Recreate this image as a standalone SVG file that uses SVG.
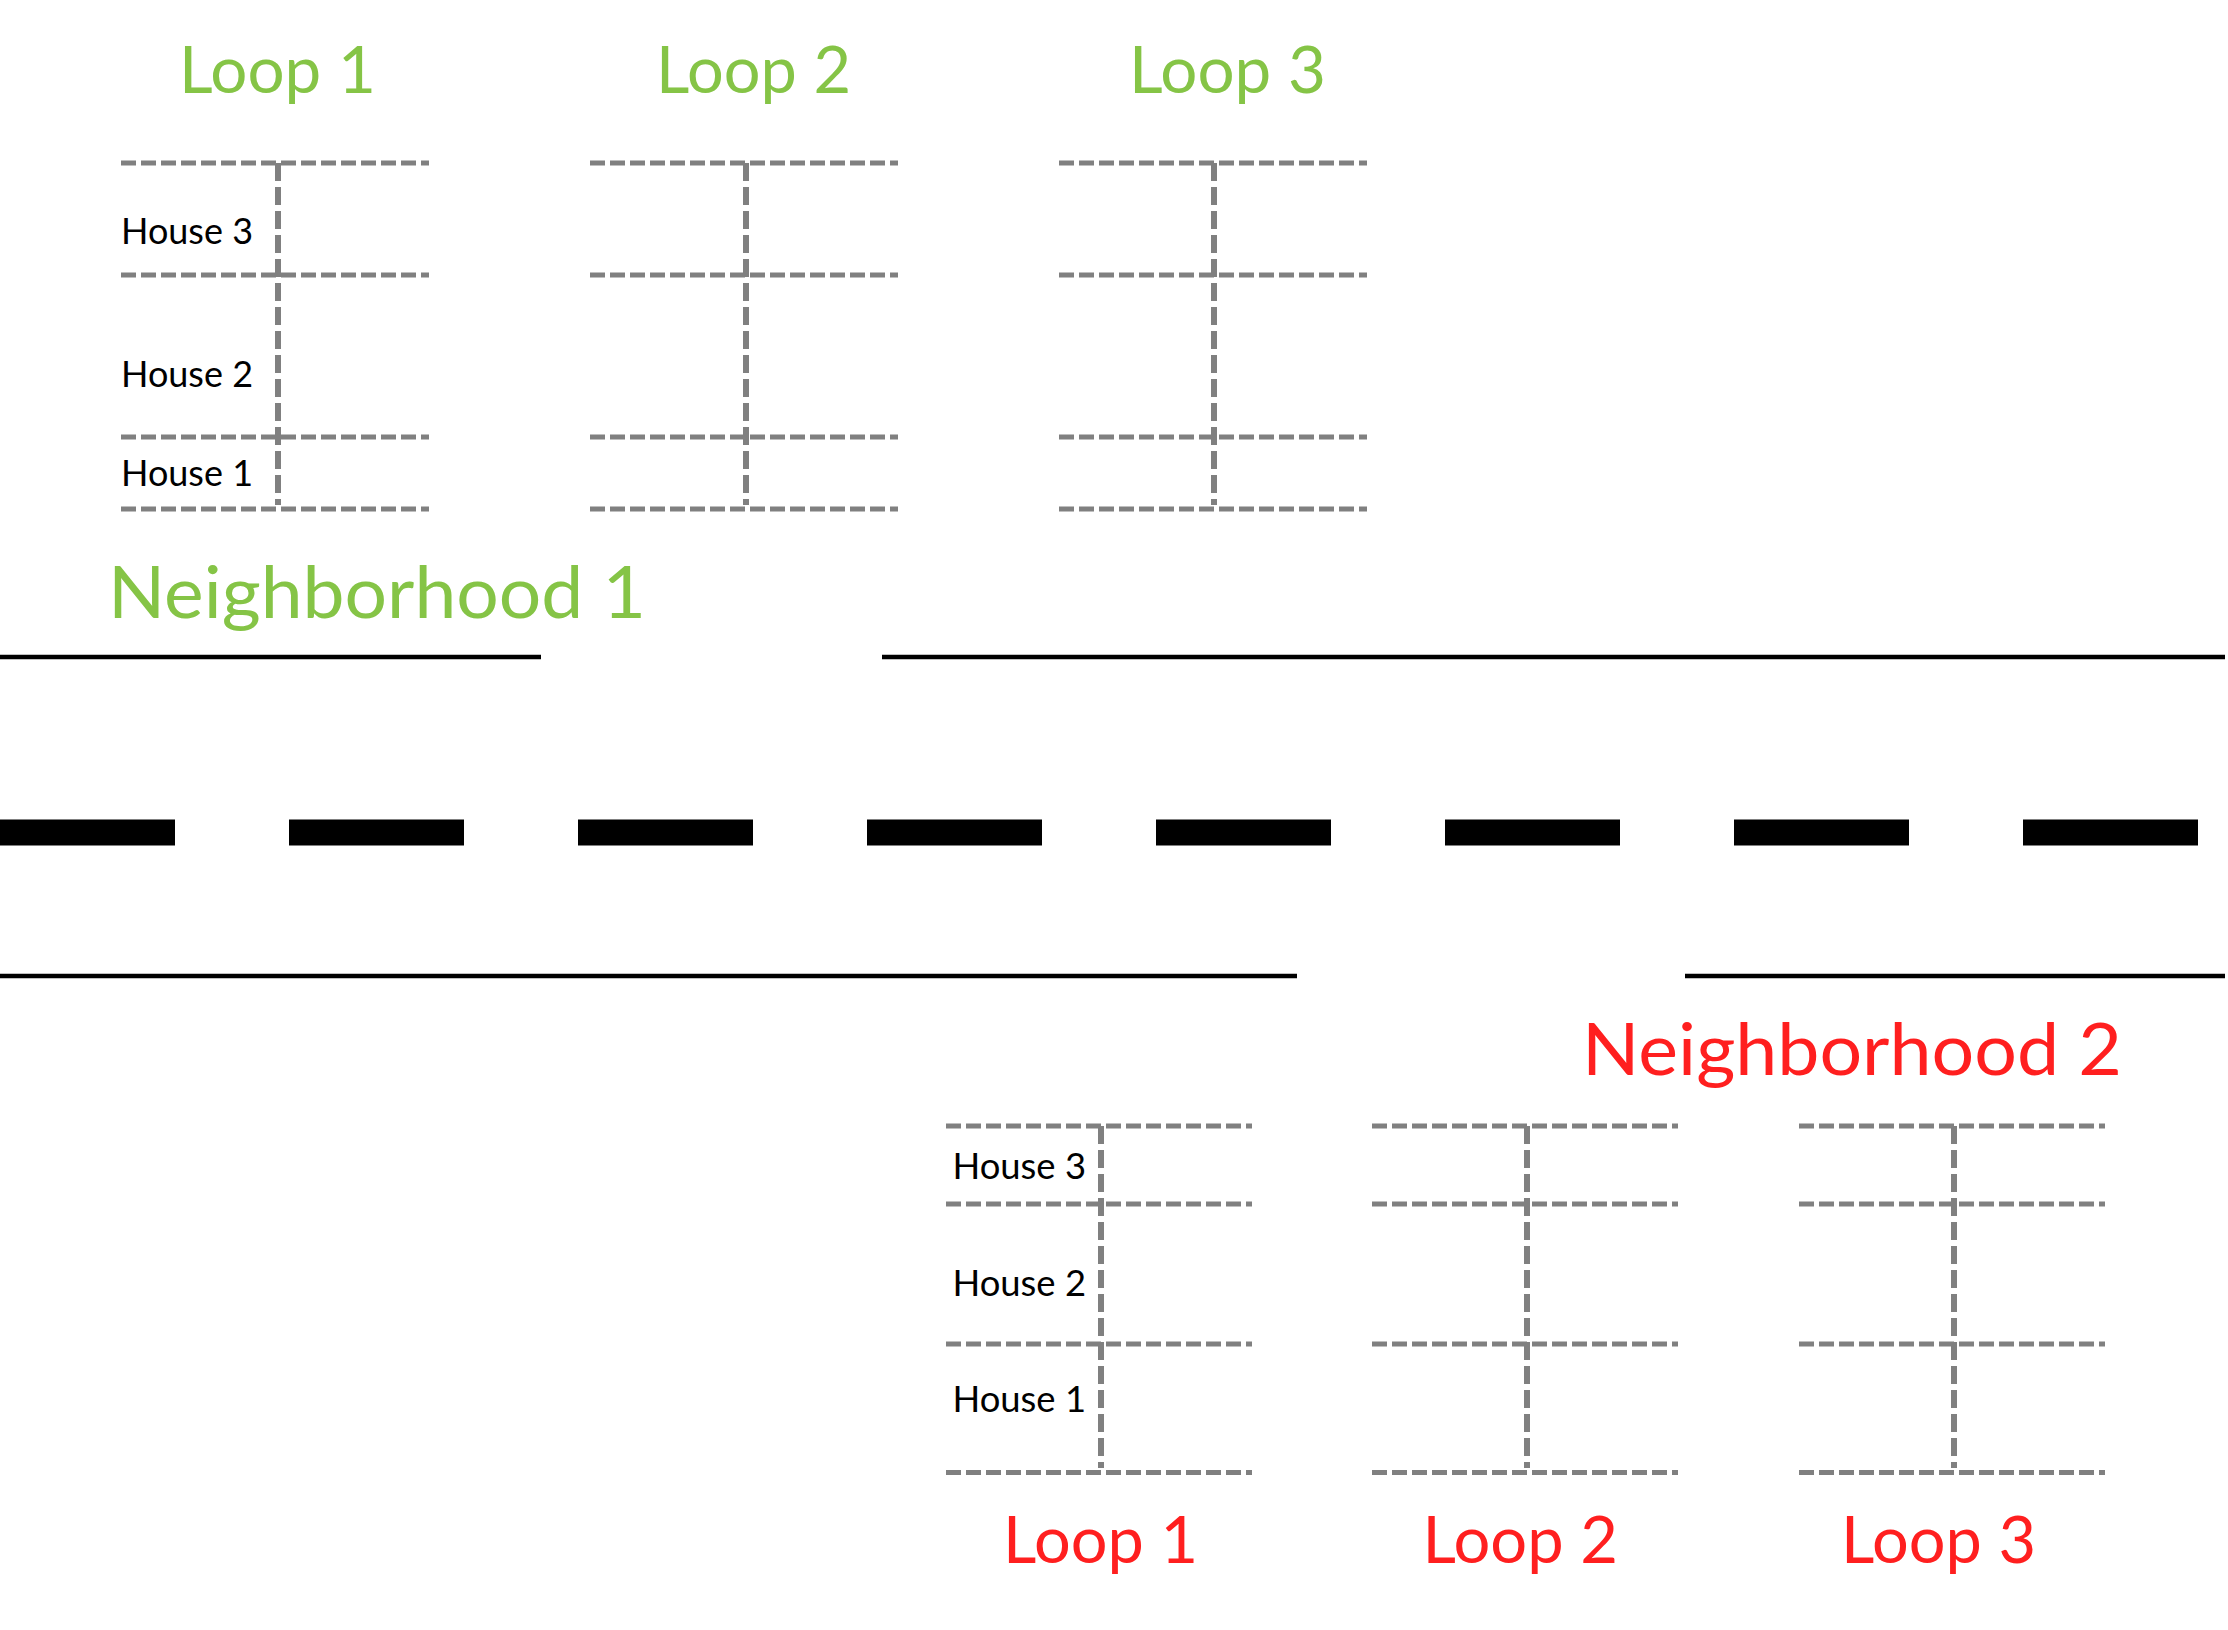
<svg xmlns="http://www.w3.org/2000/svg" width="2228" height="1630" viewBox="0 0 2228 1630">
<style>
text{font-family:Lato,"Liberation Sans",sans-serif}
.g{fill:#85C446}
.r{fill:#FF1F1F}
.big{font-size:66px}
.nb{font-size:71px}
.hs{font-size:36px;fill:#000}
.h{stroke:#808080;stroke-width:5;stroke-dasharray:15 5;fill:none}
.v{stroke:#808080;stroke-width:6;stroke-dasharray:18 6;fill:none}
.road{stroke:#000;stroke-width:4.5;fill:none}
</style>
<rect width="2228" height="1630" fill="#fff"/>
<g id="road">
<line class="road" x1="0" y1="657" x2="541" y2="657"/>
<line class="road" x1="882" y1="657" x2="2225" y2="657"/>
<line x1="0" y1="832.5" x2="2198" y2="832.5" stroke="#000" stroke-width="26" stroke-dasharray="175 114"/>
<line class="road" x1="0" y1="976" x2="1297" y2="976"/>
<line class="road" x1="1685" y1="976" x2="2225" y2="976"/>
</g>
<g id="n1-loop1">
<line class="h" x1="121" y1="163" x2="429" y2="163"/>
<line class="h" x1="121" y1="275" x2="429" y2="275"/>
<line class="h" x1="121" y1="437" x2="429" y2="437"/>
<line class="h" x1="121" y1="509" x2="429" y2="509"/>
<line class="v" x1="278" y1="163" x2="278" y2="505"/>
<text class="hs" x="121" y="244" textLength="132" lengthAdjust="spacingAndGlyphs">House 3</text>
<text class="hs" x="121" y="387" textLength="132" lengthAdjust="spacingAndGlyphs">House 2</text>
<text class="hs" x="121" y="486" textLength="132" lengthAdjust="spacingAndGlyphs">House 1</text>
<text class="g big" x="179" y="93" textLength="197" lengthAdjust="spacingAndGlyphs">Loop 1</text>
</g>
<g id="n1-loop2">
<line class="h" x1="590" y1="163" x2="898" y2="163"/>
<line class="h" x1="590" y1="275" x2="898" y2="275"/>
<line class="h" x1="590" y1="437" x2="898" y2="437"/>
<line class="h" x1="590" y1="509" x2="898" y2="509"/>
<line class="v" x1="746" y1="163" x2="746" y2="505"/>
<text class="g big" x="656" y="93" textLength="195" lengthAdjust="spacingAndGlyphs">Loop 2</text>
</g>
<g id="n1-loop3">
<line class="h" x1="1059" y1="163" x2="1367" y2="163"/>
<line class="h" x1="1059" y1="275" x2="1367" y2="275"/>
<line class="h" x1="1059" y1="437" x2="1367" y2="437"/>
<line class="h" x1="1059" y1="509" x2="1367" y2="509"/>
<line class="v" x1="1214" y1="163" x2="1214" y2="505"/>
<text class="g big" x="1129" y="93" textLength="197" lengthAdjust="spacingAndGlyphs">Loop 3</text>
</g>
<g id="neighborhood1">
<text class="g nb" x="108" y="618" textLength="538" lengthAdjust="spacingAndGlyphs">Neighborhood 1</text>
</g>
<g id="neighborhood2">
<text class="r nb" x="1582" y="1075" textLength="540" lengthAdjust="spacingAndGlyphs">Neighborhood 2</text>
</g>
<g id="n2-loop1">
<line class="h" x1="946" y1="1126" x2="1252" y2="1126"/>
<line class="h" x1="946" y1="1204" x2="1252" y2="1204"/>
<line class="h" x1="946" y1="1344" x2="1252" y2="1344"/>
<line class="h" x1="946" y1="1472.5" x2="1252" y2="1472.5"/>
<line class="v" x1="1101" y1="1126" x2="1101" y2="1468"/>
<text class="hs" x="952.5" y="1179" textLength="133.5" lengthAdjust="spacingAndGlyphs">House 3</text>
<text class="hs" x="952.5" y="1296" textLength="133.5" lengthAdjust="spacingAndGlyphs">House 2</text>
<text class="hs" x="952.5" y="1412" textLength="133.5" lengthAdjust="spacingAndGlyphs">House 1</text>
<text class="r big" x="1003" y="1563" textLength="195" lengthAdjust="spacingAndGlyphs">Loop 1</text>
</g>
<g id="n2-loop2">
<line class="h" x1="1372" y1="1126" x2="1678" y2="1126"/>
<line class="h" x1="1372" y1="1204" x2="1678" y2="1204"/>
<line class="h" x1="1372" y1="1344" x2="1678" y2="1344"/>
<line class="h" x1="1372" y1="1472.5" x2="1678" y2="1472.5"/>
<line class="v" x1="1527" y1="1126" x2="1527" y2="1468"/>
<text class="r big" x="1422.5" y="1563" textLength="195.5" lengthAdjust="spacingAndGlyphs">Loop 2</text>
</g>
<g id="n2-loop3">
<line class="h" x1="1799" y1="1126" x2="2105" y2="1126"/>
<line class="h" x1="1799" y1="1204" x2="2105" y2="1204"/>
<line class="h" x1="1799" y1="1344" x2="2105" y2="1344"/>
<line class="h" x1="1799" y1="1472.5" x2="2105" y2="1472.5"/>
<line class="v" x1="1954" y1="1126" x2="1954" y2="1468"/>
<text class="r big" x="1841" y="1563" textLength="195" lengthAdjust="spacingAndGlyphs">Loop 3</text>
</g>
</svg>
